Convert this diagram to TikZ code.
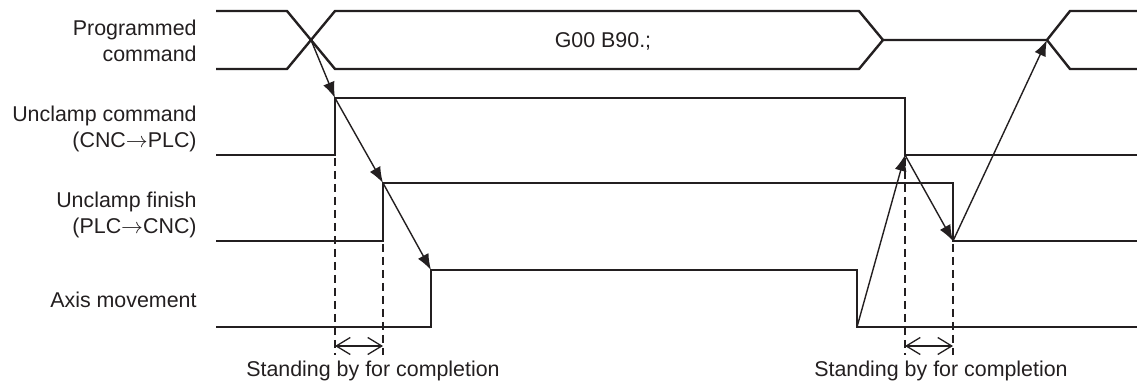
\documentclass[tikz,border=0pt]{standalone}
\usepackage{fontspec}
\setmainfont{Liberation Sans}
\usetikzlibrary{arrows.meta,positioning}
\definecolor{ink}{HTML}{231F20}

\begin{document}
\begin{tikzpicture}[
    x=0.5pt, y=-0.5pt,
    every node/.style={font=\fontsize{10.7}{12.8}\selectfont, text=ink},
    signame/.style={anchor=east, align=right, inner sep=0pt},
    signal/.style={draw=ink, line width=1.2pt, line join=miter},
    cause/.style={draw=ink, -{Latex[length=8pt,width=6pt]}, line width=0.7pt},
    guide/.style={draw=ink, line width=0.6pt, dash pattern=on 4pt off 2.5pt},
    waiting/.style={draw=ink, {Straight Barb[length=7pt,width=8.5pt]}-{Straight Barb[length=7pt,width=8.5pt]}, line width=0.65pt}
]
\useasboundingbox (0,0) rectangle (1137,385);

% signal names
\node[signame] (prog) at (197,41) {Programmed\\command};
\node[signame] (ucmd) at (197,129) {Unclamp command\\(CNC$\rightarrow$PLC)};
\node[signame] (ufin) at (197,215) {Unclamp finish\\(PLC$\rightarrow$CNC)};
\node[signame] (axis) at (197,300) {Axis movement};

% programmed command
\draw[signal] (216,11) -- (287,11) -- (335,69) -- (859,69) -- (883,40) -- (1047,40) -- (1070,11) -- (1137,11);
\draw[signal] (216,69) -- (287,69) -- (335,11) -- (859,11) -- (883,40);
\draw[signal] (1047,40) -- (1070,69) -- (1137,69);
\node (block) at (603,41) {G00 B90.;};
\coordinate (cross) at (311,40);
\coordinate (next) at (1047,40);

% unclamp command, unclamp finish, axis movement
\draw[signal] (216,155) -- (335,155) -- (335,98) -- (905,98) -- (905,155) -- (1137,155);
\draw[signal] (216,241) -- (383,241) -- (383,183) -- (953,183) -- (953,241) -- (1137,241);
\draw[signal] (216,327) -- (431,327) -- (431,270) -- (857,270) -- (857,327) -- (1137,327);
\coordinate (ucon) at (335,98);
\coordinate (ucoff) at (905,155);
\coordinate (ufon) at (383,183);
\coordinate (ufoff) at (953,241);
\coordinate (axon) at (431,270);
\coordinate (axoff) at (857,327);

% handshake
\draw[cause] (cross) -- (ucon);
\draw[cause] (ucon) -- (ufon);
\draw[cause] (ufon) -- (axon);
\draw[cause] (axoff) -- (ucoff);
\draw[cause] (ucoff) -- (ufoff);
\draw[cause] (ufoff) -- (next);

% waiting time
\draw[guide] (335,158) -- (335,355);
\draw[guide] (383,244) -- (383,355);
\draw[guide] (905,158) -- (905,355);
\draw[guide] (953,244) -- (953,355);
\draw[waiting] (335,346) -- (383,346);
\draw[waiting] (905,346) -- (953,346);
\node[anchor=base] (wait1) at (373,377) {Standing by for completion};
\node[anchor=base] (wait2) at (941,377) {Standing by for completion};
\end{tikzpicture}
\end{document}
